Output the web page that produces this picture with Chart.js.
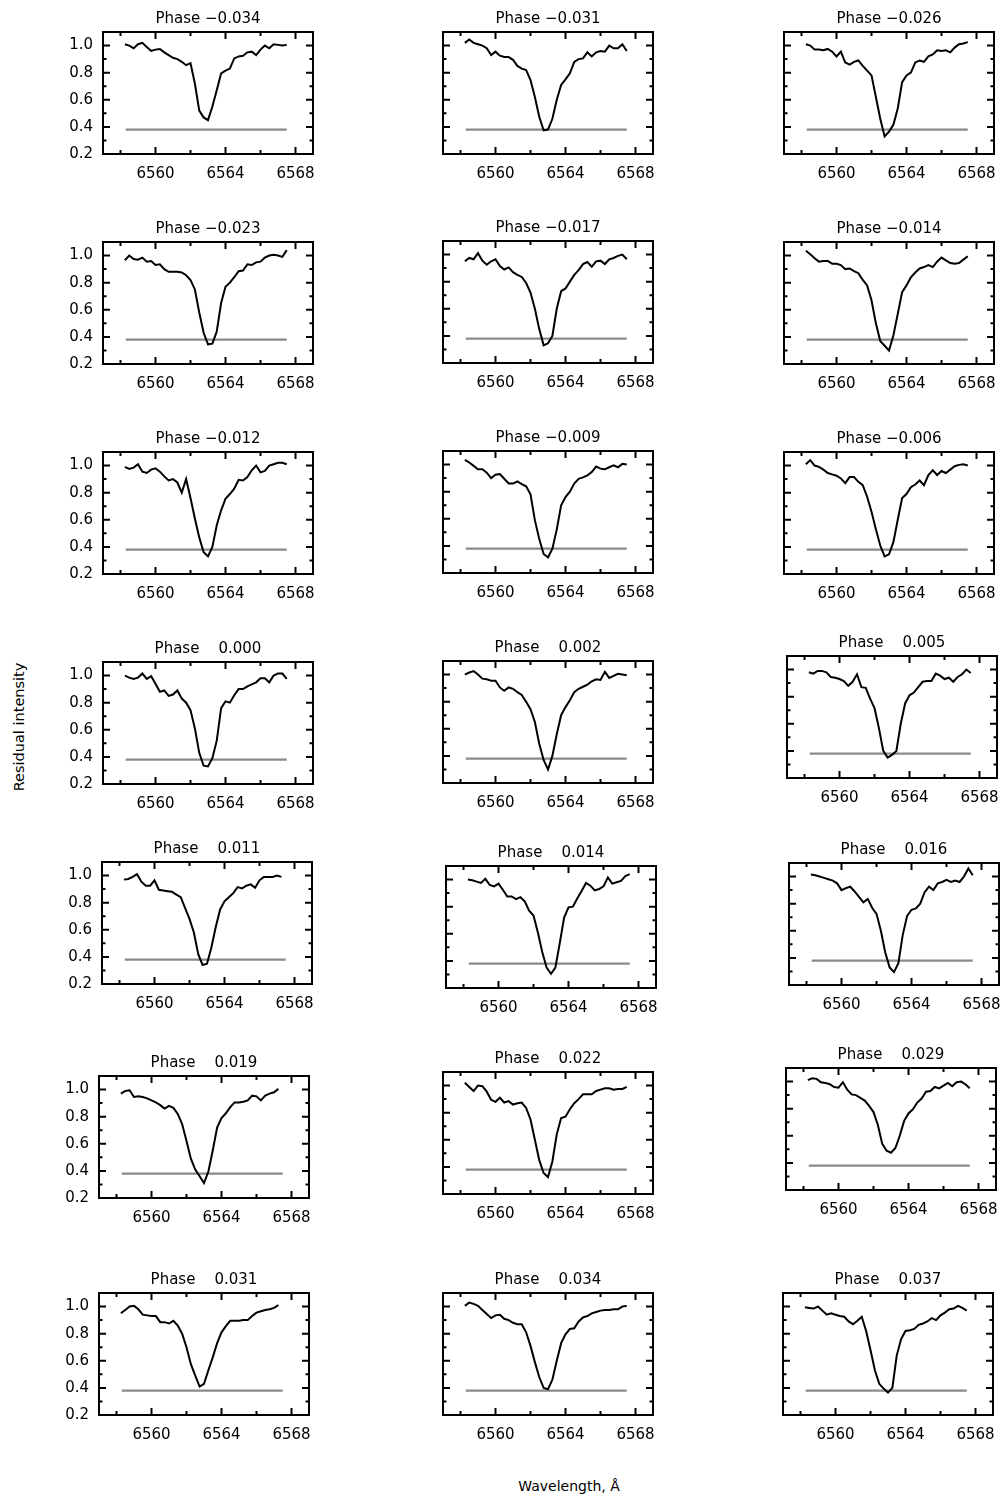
<!DOCTYPE html>
<html>
<head>
<meta charset="utf-8">
<script src="https://cdn.jsdelivr.net/npm/chart.js@4.4.0/dist/chart.umd.min.js"></script>
<style>
  body { margin: 0; background: #fff; width: 1003px; height: 1494px; position: relative; overflow: hidden; font-family: "DejaVu Sans", sans-serif; }
  canvas { position: absolute; }
  .lab { position: absolute; color: #000; white-space: nowrap; line-height: 1; }
  #ylab { left: 19px; top: 727px; font-size: 14.5px; transform: translate(-50%, -50%) rotate(-90deg); }
  #xlab { left: 569px; top: 1479px; font-size: 14px; transform: translateX(-50%); }
</style>
</head>
<body>
<div id="wrap"></div>
<div class="lab" id="ylab">Residual intensity</div>
<div class="lab" id="xlab">Wavelength, Å</div>
<script>
// wavelength grid (Å), shared by every spectrum
const waves = [6558.25, 6558.5, 6558.75, 6559.0, 6559.25, 6559.5, 6559.75, 6560.0, 6560.25, 6560.5,
  6560.75, 6561.0, 6561.25, 6561.5, 6561.75, 6562.0, 6562.25, 6562.5, 6562.75, 6563.0,
  6563.25, 6563.5, 6563.75, 6564.0, 6564.25, 6564.5, 6564.75, 6565.0, 6565.25, 6565.5,
  6565.75, 6566.0, 6566.25, 6566.5, 6566.75, 6567.0, 6567.25, 6567.5];

const xTicks = [6560, 6564, 6568];
const xMinor = [6558, 6562, 6566];
const yTicks = [0.2, 0.4, 0.6, 0.8, 1.0];
const yMinor = [0.3, 0.5, 0.7, 0.9];

// gray reference level
const contLevel = 0.38;
const contRange = [6558.3, 6567.5];

const phases = [-0.034, -0.031, -0.026, -0.023, -0.017, -0.014, -0.012, -0.009, -0.006,
  0.000, 0.002, 0.005, 0.011, 0.014, 0.016, 0.019, 0.022, 0.029, 0.031, 0.034, 0.037];

// residual intensity per phase
const specM034 = [1.01,1.0,0.98,1.01,1.02,0.99,0.96,0.97,0.975,0.95,0.93,0.91,0.90,0.88,0.855,0.87,0.72,0.52,0.47,0.45,0.55,0.67,0.795,0.815,0.83,0.905,0.92,0.925,0.95,0.955,0.93,0.97,1.0,0.98,1.01,1.005,1.0,1.005];
const specM031 = [1.02,1.045,1.02,1.01,1.0,0.98,0.93,0.955,0.925,0.915,0.915,0.895,0.85,0.83,0.82,0.745,0.62,0.475,0.375,0.38,0.46,0.6,0.71,0.75,0.795,0.88,0.9,0.905,0.95,0.92,0.95,0.96,0.955,1.0,0.98,0.98,1.01,0.96];
const specM026 = [1.01,1.0,0.97,0.97,0.965,0.975,0.955,0.92,0.955,0.875,0.86,0.88,0.89,0.85,0.815,0.78,0.62,0.46,0.33,0.365,0.415,0.535,0.73,0.78,0.8,0.875,0.89,0.88,0.92,0.935,0.965,0.96,0.965,0.95,0.985,1.01,1.015,1.025];
const specM023 = [0.965,1.0,0.975,0.97,0.985,0.955,0.96,0.93,0.935,0.90,0.88,0.88,0.88,0.875,0.855,0.82,0.75,0.58,0.43,0.345,0.35,0.44,0.65,0.77,0.80,0.84,0.885,0.89,0.935,0.93,0.95,0.955,0.985,1.0,1.005,1.0,0.99,1.04];
const specM017 = [0.95,0.975,0.965,1.01,0.955,0.925,0.95,0.965,0.915,0.89,0.905,0.87,0.85,0.835,0.79,0.72,0.6,0.45,0.33,0.345,0.40,0.60,0.73,0.75,0.80,0.85,0.885,0.93,0.945,0.91,0.95,0.955,0.93,0.965,0.975,0.99,1.0,0.965];
const specM014 = [1.035,1.01,0.98,0.955,0.96,0.96,0.94,0.94,0.93,0.90,0.905,0.885,0.87,0.82,0.78,0.67,0.50,0.37,0.335,0.30,0.41,0.57,0.73,0.78,0.84,0.875,0.905,0.915,0.93,0.915,0.955,0.985,0.965,0.945,0.94,0.945,0.97,0.995];
const specM012 = [0.99,0.975,0.985,1.01,0.955,0.945,0.97,0.98,0.955,0.92,0.89,0.90,0.875,0.80,0.90,0.76,0.61,0.47,0.36,0.33,0.40,0.56,0.67,0.755,0.79,0.83,0.895,0.89,0.915,0.965,1.0,0.95,0.96,1.0,1.01,1.02,1.02,1.01];
const specM009 = [1.035,1.015,0.99,0.965,0.965,0.94,0.90,0.925,0.93,0.895,0.86,0.86,0.875,0.855,0.84,0.78,0.59,0.45,0.34,0.315,0.38,0.52,0.70,0.76,0.80,0.86,0.895,0.905,0.92,0.945,0.985,0.97,0.965,0.98,0.995,0.98,1.005,1.0];
const specM006 = [1.01,1.04,1.0,0.99,0.97,0.945,0.935,0.925,0.905,0.87,0.915,0.915,0.88,0.855,0.77,0.66,0.53,0.41,0.33,0.345,0.435,0.60,0.76,0.79,0.84,0.86,0.89,0.855,0.93,0.965,0.93,0.96,0.945,0.97,0.995,1.005,1.01,1.0];
const specP000 = [1.0,0.985,0.975,0.985,1.015,0.975,0.995,0.94,0.88,0.89,0.85,0.86,0.89,0.83,0.80,0.745,0.61,0.43,0.335,0.33,0.39,0.52,0.76,0.81,0.80,0.855,0.90,0.90,0.92,0.935,0.95,0.98,0.98,0.95,1.0,1.015,1.015,0.975];
const specP002 = [1.0,1.015,1.025,1.0,0.97,0.965,0.955,0.955,0.905,0.88,0.905,0.895,0.87,0.85,0.80,0.745,0.65,0.49,0.37,0.30,0.40,0.56,0.70,0.76,0.81,0.87,0.895,0.91,0.925,0.95,0.965,0.96,1.02,0.975,0.99,1.005,1.0,0.995];
const specP005 = [0.98,0.97,0.99,0.99,0.98,0.945,0.94,0.93,0.915,0.88,0.91,0.965,0.87,0.865,0.785,0.715,0.57,0.40,0.35,0.37,0.40,0.60,0.75,0.81,0.83,0.87,0.91,0.915,0.915,0.97,0.955,0.93,0.94,0.91,0.945,0.965,1.0,0.975];
const specP011 = [0.97,0.975,0.99,1.01,0.955,0.925,0.925,0.965,0.895,0.89,0.885,0.88,0.86,0.84,0.76,0.68,0.58,0.42,0.34,0.35,0.47,0.62,0.75,0.81,0.84,0.87,0.915,0.905,0.925,0.935,0.91,0.965,0.99,0.99,0.99,1.0,0.99,null];
const specP014 = [1.0,0.995,0.985,0.975,1.005,0.96,0.95,0.97,0.925,0.875,0.875,0.855,0.87,0.84,0.77,0.735,0.61,0.465,0.35,0.305,0.35,0.53,0.72,0.795,0.80,0.86,0.915,0.975,0.955,0.92,0.93,0.95,1.015,0.97,0.98,0.99,1.025,1.04];
const specP016 = [1.015,1.01,1.0,0.99,0.98,0.97,0.95,0.90,0.915,0.925,0.89,0.85,0.81,0.835,0.77,0.725,0.60,0.44,0.33,0.295,0.36,0.57,0.71,0.755,0.765,0.80,0.885,0.925,0.90,0.95,0.96,0.975,0.96,0.97,0.96,1.0,1.06,1.01];
const specP019 = [0.97,0.99,0.995,0.945,0.95,0.945,0.935,0.92,0.905,0.885,0.86,0.88,0.865,0.82,0.745,0.62,0.49,0.41,0.36,0.31,0.395,0.55,0.72,0.79,0.825,0.87,0.905,0.905,0.91,0.92,0.955,0.95,0.92,0.955,0.97,0.98,1.005,null];
const specP022 = [1.02,0.99,0.96,1.0,0.995,0.955,0.895,0.88,0.91,0.875,0.885,0.86,0.87,0.875,0.835,0.75,0.60,0.45,0.355,0.325,0.44,0.64,0.76,0.77,0.825,0.87,0.90,0.935,0.935,0.935,0.96,0.97,0.98,0.98,0.97,0.975,0.975,0.99];
const specP029 = [1.01,1.025,1.02,0.995,0.99,0.98,0.96,0.955,0.995,0.94,0.905,0.90,0.88,0.86,0.82,0.775,0.68,0.54,0.49,0.475,0.51,0.60,0.71,0.765,0.795,0.845,0.875,0.925,0.93,0.96,0.95,0.97,0.99,0.965,0.995,1.0,0.98,0.95];
const specP031 = [0.95,0.975,1.0,1.005,0.98,0.94,0.935,0.93,0.93,0.885,0.885,0.875,0.895,0.86,0.80,0.70,0.575,0.49,0.41,0.43,0.53,0.625,0.73,0.81,0.855,0.895,0.895,0.895,0.90,0.90,0.93,0.955,0.965,0.975,0.98,0.99,1.01,null];
const specP034 = [1.005,1.03,1.02,1.005,0.975,0.945,0.915,0.935,0.94,0.91,0.90,0.88,0.87,0.87,0.81,0.71,0.59,0.48,0.40,0.39,0.46,0.60,0.73,0.795,0.835,0.84,0.89,0.92,0.93,0.95,0.96,0.97,0.975,0.975,0.98,0.98,1.0,1.005];
const specP037 = [0.995,0.99,0.985,1.0,0.97,0.94,0.95,0.94,0.93,0.925,0.89,0.87,0.895,0.925,0.82,0.68,0.53,0.43,0.395,0.365,0.40,0.64,0.76,0.82,0.825,0.835,0.865,0.875,0.89,0.915,0.90,0.935,0.955,0.98,0.985,1.005,0.99,0.97];

const spectra = [specM034, specM031, specM026, specM023, specM017, specM014, specM012, specM009, specM006,
  specP000, specP002, specP005, specP011, specP014, specP016, specP019, specP022, specP029, specP031, specP034, specP037];

// plot-box top-left corner of each panel on the page
const boxes = [
  [103, 32], [443, 32], [784, 32],
  [103, 242], [443, 241], [784, 242],
  [103, 452], [443, 451], [784, 452],
  [103, 662], [443, 661], [787, 656],
  [102, 862], [446, 866], [789, 863],
  [99, 1076], [443, 1072], [786, 1068],
  [99, 1293], [443, 1293], [783, 1293]
];

const AX_L = 60, PAD_T = 30, PAD_R = 20, AX_B = 38, PLOT_W = 210, PLOT_H = 122;
const FONT = '"DejaVu Sans", sans-serif';

function phaseLabel(p) {
  return 'Phase ' + (p < 0 ? '\u2212' : '   ') + Math.abs(p).toFixed(3);
}

// box frame, inward ticks and panel title
const framePlugin = {
  id: 'frame',
  afterDraw(chart, args, opts) {
    const ctx = chart.ctx;
    const a = chart.chartArea;
    const x = chart.scales.x, y = chart.scales.y;
    ctx.save();
    ctx.strokeStyle = '#000';
    ctx.lineWidth = 2;
    ctx.strokeRect(a.left, a.top, a.right - a.left, a.bottom - a.top);
    ctx.beginPath();
    const xt = (v, len) => {
      const px = x.getPixelForValue(v);
      ctx.moveTo(px, a.bottom); ctx.lineTo(px, a.bottom - len);
      ctx.moveTo(px, a.top); ctx.lineTo(px, a.top + len);
    };
    const yt = (v, len) => {
      const py = y.getPixelForValue(v);
      ctx.moveTo(a.left, py); ctx.lineTo(a.left + len, py);
      ctx.moveTo(a.right, py); ctx.lineTo(a.right - len, py);
    };
    xTicks.forEach(v => xt(v, 7));
    xMinor.forEach(v => xt(v, 4));
    yTicks.forEach(v => yt(v, 7));
    yMinor.forEach(v => yt(v, 3.5));
    ctx.stroke();
    ctx.fillStyle = '#000';
    ctx.font = '15px ' + FONT;
    ctx.textAlign = 'center';
    ctx.textBaseline = 'alphabetic';
    ctx.fillText(opts.title, (a.left + a.right) / 2, a.top - 9);
    ctx.restore();
  }
};

const wrap = document.getElementById('wrap');

spectra.forEach((spec, k) => {
  const col = k % 3;
  const cv = document.createElement('canvas');
  cv.width = AX_L + PLOT_W + PAD_R;
  cv.height = PAD_T + PLOT_H + AX_B;
  cv.style.left = (boxes[k][0] - AX_L) + 'px';
  cv.style.top = (boxes[k][1] - PAD_T) + 'px';
  wrap.appendChild(cv);

  new Chart(cv, {
    type: 'line',
    data: {
      datasets: [
        {
          data: spec.map((v, i) => ({ x: waves[i], y: v })),
          borderColor: '#000',
          borderWidth: 2,
          pointRadius: 0,
          tension: 0,
          spanGaps: false
        },
        {
          data: contRange.map(w => ({ x: w, y: contLevel })),
          borderColor: '#8a8a8a',
          borderWidth: 2.2,
          pointRadius: 0
        }
      ]
    },
    options: {
      responsive: false,
      animation: false,
      events: [],
      layout: { padding: { top: PAD_T, right: PAD_R, left: 0, bottom: 0 } },
      plugins: {
        legend: { display: false },
        tooltip: { enabled: false },
        frame: { title: phaseLabel(phases[k]) }
      },
      scales: {
        x: {
          type: 'linear',
          min: 6557,
          max: 6569,
          afterBuildTicks: s => { s.ticks = xTicks.map(v => ({ value: v })); },
          afterFit: s => { s.height = AX_B; },
          grid: { display: false },
          border: { display: false },
          ticks: {
            color: '#000',
            font: { family: FONT, size: 15 },
            padding: 3,
            maxRotation: 0,
            autoSkip: false,
            callback: v => String(v)
          }
        },
        y: {
          min: 0.2,
          max: 1.1,
          afterBuildTicks: s => { s.ticks = yTicks.map(v => ({ value: v })); },
          afterFit: s => { s.width = AX_L; },
          grid: { display: false },
          border: { display: false },
          ticks: {
            display: col === 0,
            color: '#000',
            font: { family: FONT, size: 15 },
            padding: 2,
            callback: v => v.toFixed(1)
          }
        }
      }
    },
    plugins: [framePlugin]
  });
});
</script>
</body>
</html>
